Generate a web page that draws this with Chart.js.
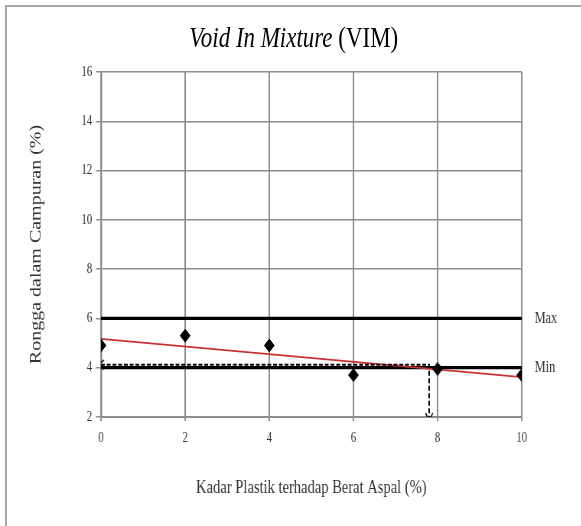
<!DOCTYPE html>
<html>
<head>
<meta charset="utf-8">
<script src="https://cdn.jsdelivr.net/npm/chart.js@4.4.1/dist/chart.umd.min.js"></script>
<style>
  html, body { margin: 0; padding: 0; background: #fff; overflow: hidden; }
  body { width: 581px; height: 526px; position: relative; }
  #frame {
    position: absolute; left: 5px; top: 5px; width: 800px; height: 800px;
    border: 2px solid #a6a6a6;
  }
  #wrap {
    position: absolute; left: 0; top: 0; width: 760px; height: 526px;
    transform: scaleX(0.765); transform-origin: 0 0;
  }
  #judul {
    position: absolute; left: 0; top: 22px; width: 768px; text-align: center;
    font-family: "Liberation Serif", serif; font-size: 30px; line-height: 30px; color: #000;
  }
  #grafikVIM { position: absolute; left: 0; top: 0; }
</style>
</head>
<body>
<div id="frame"></div>
<div id="wrap">
  <div id="judul"><i>Void In Mixture</i> (VIM)</div>
  <canvas id="grafikVIM" width="760" height="526"></canvas>
</div>
<script>
// data
const kadarPlastik = [0, 2, 4, 6, 8, 10];
const nilaiVIM = [4.9, 5.3, 4.9, 3.7, 3.95, 3.7];
const trendX = [0, 10];
const trendY = [5.17, 3.62];
const batasNilai = [6, 4];
const batasLabel = ["Max", "Min"];
const optimumX = [0, 7.8, 7.8];
const optimumY = [4.12, 4.12, 2];
const yTicks = [2, 4, 6, 8, 10, 12, 14, 16];
const xTicks = [0, 2, 4, 6, 8, 10];

const ctx = document.getElementById("grafikVIM").getContext("2d");
const huruf = "'Liberation Serif', 'Times New Roman', serif";
const abu = "#8c8c8c";

// kepala panah (bentuk V) untuk garis putus-putus
function buatPanah() {
    const c = document.createElement("canvas");
    c.width = 12;
    c.height = 12;
    const g = c.getContext("2d");
    g.strokeStyle = "#000";
    g.lineWidth = 1.6;
    g.beginPath();
    g.moveTo(1.5, 2);
    g.lineTo(6, 11);
    g.lineTo(10.5, 2);
    g.stroke();
    return c;
}
const panah = buatPanah();

function toPoints(xs, ys) {
    return xs.map((x, i) => ({ x: x, y: ys[i] }));
}

const garisBatas = batasNilai.map((v, i) => ({
    label: batasLabel[i],
    data: [{ x: xTicks[0], y: v }, { x: xTicks[xTicks.length - 1], y: v }],
    showLine: true,
    borderColor: "#000",
    borderWidth: 3.2,
    pointRadius: 0,
    order: 4
}));

new Chart(ctx, {
    type: "scatter",
    data: {
        datasets: [
            {
                label: "VIM",
                data: toPoints(kadarPlastik, nilaiVIM),
                pointStyle: "rectRot",
                pointRadius: 6.5,
                backgroundColor: "#000",
                borderColor: "#000",
                order: 0
            },
            {
                label: "Panah",
                data: [
                    { x: optimumX[0], y: optimumY[0] },
                    { x: optimumX[2], y: optimumY[2] }
                ],
                pointStyle: panah,
                rotation: [90, 0],
                order: 1
            },
            {
                label: "Trend",
                data: toPoints(trendX, trendY),
                showLine: true,
                borderColor: "#c8322f",
                borderWidth: 1.8,
                pointRadius: 0,
                order: 3
            },
            {
                label: "Optimum",
                data: toPoints(optimumX, optimumY),
                showLine: true,
                borderColor: "#000",
                borderWidth: 2,
                borderDash: [5, 2.5],
                pointRadius: 0,
                order: 2
            },
            ...garisBatas
        ]
    },
    options: {
        responsive: false,
        animation: false,
        layout: { padding: { top: 72, left: 0, right: 0, bottom: 0 } },
        plugins: {
            legend: { display: false },
            tooltip: { enabled: false },
            title: { display: false }
        },
        scales: {
            x: {
                type: "linear",
                min: 0,
                max: 10,
                afterBuildTicks: (s) => { s.ticks = xTicks.map(v => ({ value: v })); },
                afterFit: (s) => { s.height = 109; },
                ticks: {
                    color: "#333",
                    padding: 9,
                    font: { family: huruf, size: 14 }
                },
                grid: { color: abu, lineWidth: 2, tickLength: 4, tickColor: abu },
                border: { color: abu, width: 2 },
                title: {
                    display: true,
                    text: "Kadar Plastik terhadap Berat Aspal (%)",
                    color: "#333",
                    font: { family: huruf, size: 19 },
                    padding: { top: 4, bottom: 27 }
                }
            },
            y: {
                min: 2,
                max: 16,
                afterBuildTicks: (s) => { s.ticks = yTicks.map(v => ({ value: v })); },
                afterFit: (s) => { s.width = 132; },
                ticks: {
                    color: "#333",
                    padding: 5,
                    font: { family: huruf, size: 14 }
                },
                grid: { color: abu, lineWidth: 1.5, tickLength: 6.5, tickColor: abu },
                border: { color: abu, width: 2.5 },
                title: {
                    display: true,
                    text: "Rongga dalam Campuran (%)",
                    color: "#333",
                    font: { family: huruf, size: 20 },
                    padding: { top: 36, bottom: 0 }
                }
            },
            y2: {
                position: "right",
                min: 2,
                max: 16,
                afterBuildTicks: (s) => { s.ticks = batasNilai.map(v => ({ value: v })); },
                afterFit: (s) => { s.width = 78; },
                ticks: {
                    color: "#333",
                    padding: 17,
                    font: { family: huruf, size: 16 },
                    callback: (v) => batasLabel[batasNilai.indexOf(v)] || ""
                },
                grid: { display: false, drawTicks: false },
                border: { display: false }
            }
        }
    }
});
</script>
</body>
</html>
